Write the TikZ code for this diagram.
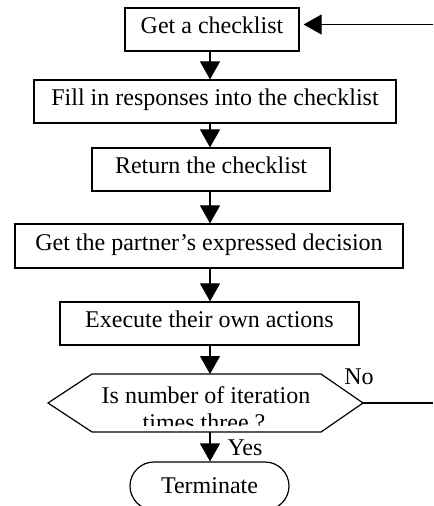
\documentclass[tikz,border=0pt]{standalone}
\usepackage{fontspec}
\setmainfont{Liberation Serif}
\usetikzlibrary{arrows.meta,shapes.misc}
\begin{document}
\begin{tikzpicture}[x=0.5pt,y=-0.5pt,
  every node/.style={font=\fontsize{12}{14}\selectfont,inner sep=0pt},
  stepbox/.style={draw,line width=0.6pt,minimum height=21.5pt,
    text height=0.7em,text depth=0.25em},
  endbox/.style={draw,rounded rectangle,line width=0.6pt,minimum height=24pt},
  arr/.style={line width=0.6pt,-{Triangle[length=9pt,width=10pt]}},
  wire/.style={line width=0.6pt}]
  \useasboundingbox (0,0) rectangle (433,506);
  \clip (0,0) rectangle (433,506);

  % process steps
  \node[stepbox,minimum width=87pt]    (b1) at (212,29.5)  {Get a checklist};
  \node[stepbox,minimum width=181pt]   (b2) at (215,101.5) {Fill in responses into the checklist};
  \node[stepbox,minimum width=119pt]   (b3) at (211,169.5) {Return the checklist};
  \node[stepbox,minimum width=194pt,minimum height=22pt] (b4) at (209,246) {Get the partner’s expressed decision};
  \node[stepbox,minimum width=149.5pt] (b5) at (209.5,323.5) {Execute their own actions};

  % decision hexagon
  \coordinate (hl)  at (48,403);
  \coordinate (htl) at (92,374);
  \coordinate (htr) at (321,374);
  \coordinate (hr)  at (363,403);
  \coordinate (hbr) at (321,432);
  \coordinate (hbl) at (92,432);
  \draw[wire,line join=miter] (hl) -- (htl) -- (htr) -- (hr) -- (hbr) -- (hbl) -- cycle;
  \begin{scope}
    \clip (0,360) rectangle (433,425);
    \node[anchor=base] (q1) at (206,403) {Is number of iteration};
    \node[anchor=base] (q2) at (204,430) {times three ?};
  \end{scope}

  % end
  \node[endbox,minimum width=79.5pt] (term) at (209.5,486) {Terminate};

  % flow
  \coordinate (axis) at (210,0);
  \draw[arr] (b1.south -| axis) -- (b2.north -| axis);
  \draw[arr] (b2.south -| axis) -- (b3.north -| axis);
  \draw[arr] (b3.south -| axis) -- (b4.north -| axis);
  \draw[arr] (b4.south -| axis) -- (b5.north -| axis);
  \draw[arr] (b5.south -| axis) -- (htl -| axis);
  \draw[arr] (hbl -| axis) -- (term.north -| axis);

  % loop back
  \coordinate (rtop) at (433,24.5);
  \coordinate (rbot) at (433,403);
  \draw[arr,shorten >=2pt] (rtop) -- (b1.east |- rtop);
  \draw[wire] (hr) -- (rbot);

  \node (no)  at (359,377) {No};
  \node (yes) at (245,448) {Yes};
\end{tikzpicture}
\end{document}
